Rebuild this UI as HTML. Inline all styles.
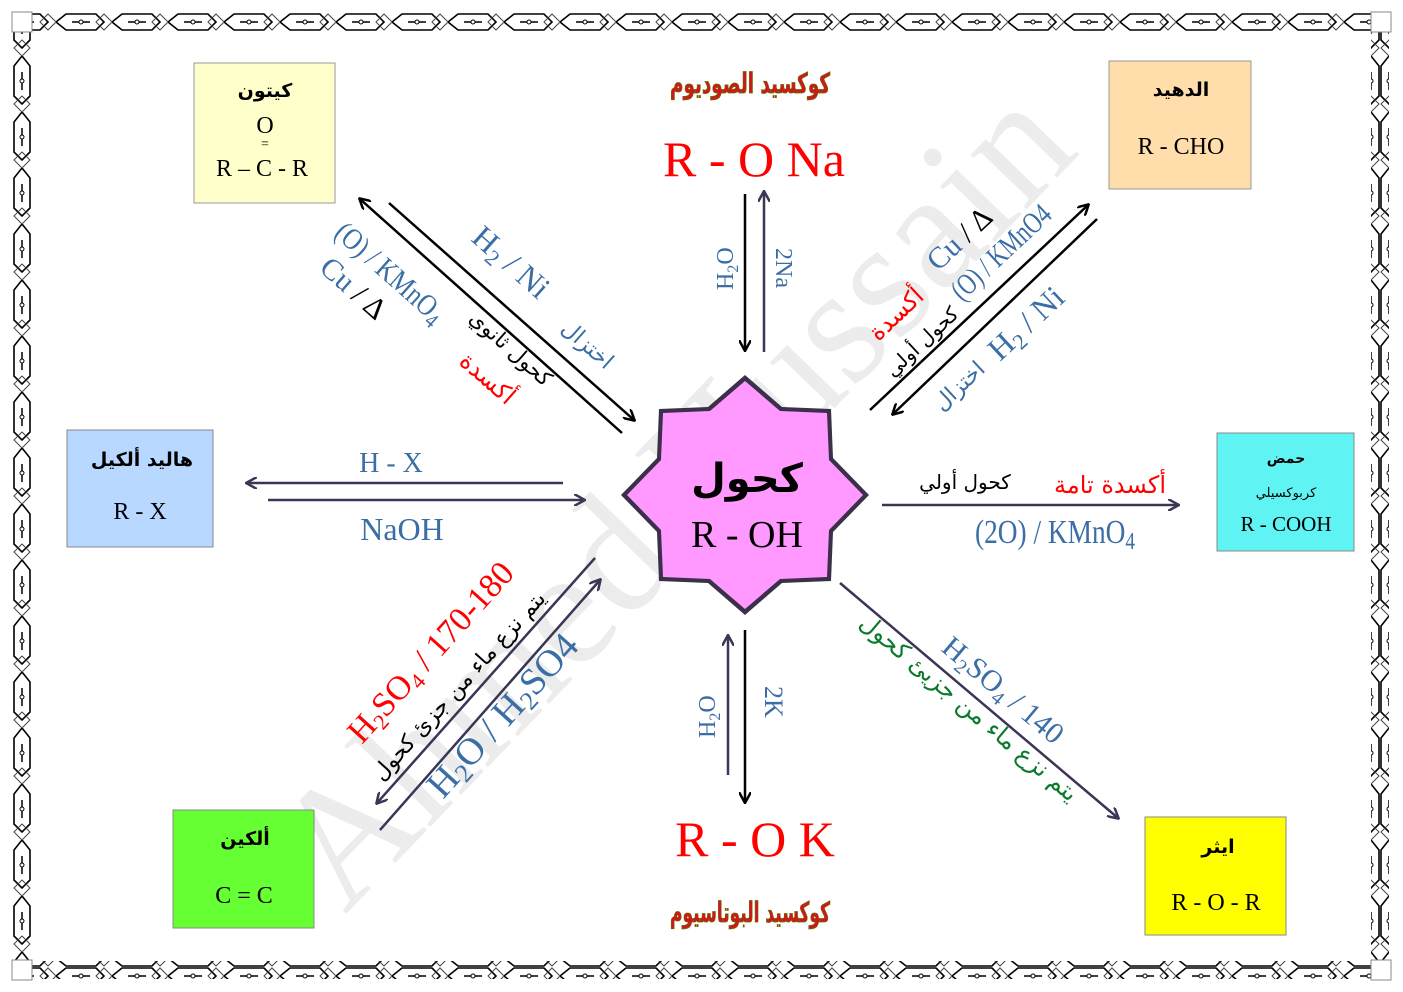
<!DOCTYPE html>
<html><head><meta charset="utf-8"><style>
html,body{margin:0;padding:0;background:#fff;}
svg{display:block}
text{font-family:"Liberation Serif","DejaVu Serif",serif;}
.ar{font-family:"DejaVu Sans","Noto Sans CJK SC",sans-serif;}
.b{fill:#3a6ea5}
</style></head><body>
<svg width="1403" height="992" viewBox="0 0 1403 992" xmlns="http://www.w3.org/2000/svg">
<defs>
<pattern id="bh" x="0" y="13" width="56" height="18" patternUnits="userSpaceOnUse">
<path d="M0,9 L10,1 L40,1 L48,9 L40,17 L10,17 Z" fill="none" stroke="#000" stroke-width="1.6"/>
<path d="M40,9 L48,1 L56,9 L48,17 Z" fill="none" stroke="#444" stroke-width="1"/>
<line x1="16" y1="9" x2="34" y2="9" stroke="#000" stroke-width="1.5"/>
<circle cx="25" cy="9" r="2" fill="#fff" stroke="#000"/>
</pattern>
<pattern id="bv" x="13" y="0" width="18" height="56" patternUnits="userSpaceOnUse">
<path d="M9,0 L1,10 L1,40 L9,48 L17,40 L17,10 Z" fill="none" stroke="#000" stroke-width="1.6"/>
<path d="M9,40 L1,48 L9,56 L17,48 Z" fill="none" stroke="#444" stroke-width="1"/>
<line x1="9" y1="16" x2="9" y2="34" stroke="#000" stroke-width="1.5"/>
<circle cx="9" cy="25" r="2" fill="#fff" stroke="#000"/>
</pattern>
<marker id="ak" markerWidth="12" markerHeight="12" refX="10" refY="6" orient="auto" markerUnits="userSpaceOnUse"><path d="M0,0 L11,6 L0,12" fill="none" stroke="#000" stroke-width="2.5"/></marker>
<marker id="an" markerWidth="12" markerHeight="12" refX="10" refY="6" orient="auto" markerUnits="userSpaceOnUse"><path d="M0,0 L11,6 L0,12" fill="none" stroke="#3b3556" stroke-width="2.5"/></marker>
</defs>
<!-- border -->
<rect x="30" y="13" width="1345" height="18" fill="url(#bh)"/>
<rect x="30" y="961" width="1345" height="18" fill="url(#bh)"/>
<rect x="13" y="30" width="18" height="935" fill="url(#bv)"/>
<rect x="1372" y="30" width="18" height="935" fill="url(#bv)" transform="translate(-1,0)"/>
<rect x="12" y="12" width="20" height="20" fill="#fff" stroke="#888"/>
<rect x="1371" y="12" width="20" height="20" fill="#fff" stroke="#888"/>
<rect x="12" y="960" width="20" height="20" fill="#fff" stroke="#888"/>
<rect x="1371" y="960" width="20" height="20" fill="#fff" stroke="#888"/>

<!-- watermark -->
<text x="0" y="0" font-size="170" fill="#ececec" textLength="1060" lengthAdjust="spacingAndGlyphs" transform="translate(345,915) rotate(-46)" style="font-family:'Liberation Serif',serif">Ahmed Hussain</text>

<!-- boxes -->
<rect x="194" y="63" width="141" height="140" fill="#ffffcc" stroke="#999"/>
<text x="265" y="97" class="ar" font-size="19" font-weight="bold" text-anchor="middle">كيتون</text>
<text x="265" y="133" font-size="24" text-anchor="middle">O</text>
<text x="265" y="148" font-size="14" text-anchor="middle">=</text>
<text x="262" y="176" font-size="24" text-anchor="middle">R – C - R</text>

<rect x="1109" y="61" width="142" height="128" fill="#ffdeab" stroke="#999"/>
<text x="1181" y="96" class="ar" font-size="19" font-weight="bold" text-anchor="middle">الدهيد</text>
<text x="1181" y="154" font-size="24" text-anchor="middle">R - CHO</text>

<rect x="67" y="430" width="146" height="117" fill="#b8d8ff" stroke="#888"/>
<text x="142" y="466" class="ar" font-size="19" font-weight="bold" text-anchor="middle">هاليد ألكيل</text>
<text x="140" y="519" font-size="24" text-anchor="middle">R - X</text>

<rect x="1217" y="433" width="137" height="118" fill="#5ff3f3" stroke="#888"/>
<text x="1286" y="463" class="ar" font-size="14" font-weight="bold" text-anchor="middle">حمض</text>
<text x="1286" y="497" class="ar" font-size="13" text-anchor="middle">كربوكسيلي</text>
<text x="1286" y="531" font-size="21" text-anchor="middle">R - COOH</text>

<rect x="173" y="810" width="141" height="118" fill="#66ff33" stroke="#888"/>
<text x="245" y="845" class="ar" font-size="19" font-weight="bold" text-anchor="middle">ألكين</text>
<text x="244" y="903" font-size="24" text-anchor="middle">C = C</text>

<rect x="1145" y="817" width="141" height="118" fill="#ffff00" stroke="#888"/>
<text x="1218" y="853" class="ar" font-size="19" font-weight="bold" text-anchor="middle">ايثر</text>
<text x="1216" y="910" font-size="24" text-anchor="middle">R - O - R</text>

<!-- star -->
<g transform="translate(745,495)">
<polygon points="0,-120 37,-88 86,-86 88,-37 124,0 88,37 86,86 37,88 0,120 -37,88 -86,86 -88,37 -124,0 -88,-37 -86,-86 -37,-88" fill="#3b2f4a"/>
<polygon points="0,-114 35,-84 82,-82 84,-35 118,0 84,35 82,82 35,84 0,114 -35,84 -82,82 -84,35 -118,0 -84,-35 -82,-82 -35,-84" fill="#ff99ff"/>
</g>
<text x="747" y="492" class="ar" font-size="40" font-weight="bold" text-anchor="middle">كحول</text>
<text x="747" y="547" font-size="38" text-anchor="middle">R - OH</text>

<!-- top -->
<text x="750" y="93" class="ar" font-size="28" font-weight="bold" fill="#cc1a1a" stroke="#6b6b00" stroke-width="0.8" text-anchor="middle" textLength="160" lengthAdjust="spacingAndGlyphs">كوكسيد الصوديوم</text>
<text x="754" y="176" font-size="50" fill="#ff0000" text-anchor="middle">R - O Na</text>
<line x1="745" y1="194" x2="745" y2="350" stroke="#000" stroke-width="2.5" marker-end="url(#ak)"/>
<line x1="764" y1="352" x2="764" y2="192" stroke="#3b3556" stroke-width="2.5" marker-end="url(#an)"/>
<text class="b" font-size="24" transform="translate(733,290) rotate(-90)">H<tspan font-size="16" dy="5">2</tspan><tspan dy="-5">O</tspan></text>
<text class="b" font-size="24" transform="translate(776,248) rotate(90)">2Na</text>

<!-- bottom -->
<line x1="728" y1="775" x2="728" y2="636" stroke="#3b3556" stroke-width="2.5" marker-end="url(#an)"/>
<line x1="745" y1="630" x2="745" y2="802" stroke="#000" stroke-width="2.5" marker-end="url(#ak)"/>
<text class="b" font-size="24" transform="translate(715,738) rotate(-90)">H<tspan font-size="16" dy="5">2</tspan><tspan dy="-5">O</tspan></text>
<text class="b" font-size="26" transform="translate(765,686) rotate(90)">2K</text>
<text x="755" y="856" font-size="50" fill="#ff0000" text-anchor="middle">R - O K</text>
<text x="750" y="922" class="ar" font-size="28" font-weight="bold" fill="#cc1a1a" stroke="#6b6b00" stroke-width="0.8" text-anchor="middle" textLength="160" lengthAdjust="spacingAndGlyphs">كوكسيد البوتاسيوم</text>

<!-- left horizontal -->
<line x1="563" y1="483" x2="247" y2="483" stroke="#3b3556" stroke-width="2.5" marker-end="url(#an)"/>
<line x1="268" y1="500" x2="584" y2="500" stroke="#3b3556" stroke-width="2.5" marker-end="url(#an)"/>
<text x="391" y="472" font-size="28" class="b" text-anchor="middle">H - X</text>
<text x="402" y="540" font-size="32" class="b" text-anchor="middle">NaOH</text>

<!-- right horizontal -->
<line x1="882" y1="505" x2="1178" y2="505" stroke="#3b3556" stroke-width="2.5" marker-end="url(#an)"/>
<text x="965" y="489" class="ar" font-size="20" text-anchor="middle">كحول أولي</text>
<text x="1110" y="493" class="ar" font-size="24" fill="#ff0000" text-anchor="middle">أكسدة تامة</text>
<text x="1055" y="543" font-size="34" class="b" text-anchor="middle" textLength="160" lengthAdjust="spacingAndGlyphs">(2O) / KMnO<tspan font-size="24" dy="6">4</tspan></text>

<!-- upper-left -->
<line x1="622" y1="433" x2="360" y2="199" stroke="#000" stroke-width="2.5" marker-end="url(#ak)"/>
<line x1="389" y1="203" x2="634" y2="420" stroke="#000" stroke-width="2.5" marker-end="url(#ak)"/>
<text class="b" font-size="30" transform="translate(333,235) rotate(41.5)" textLength="135" lengthAdjust="spacingAndGlyphs">(O) / KMnO<tspan font-size="22" dy="6">4</tspan></text>
<text class="b" font-size="30" transform="translate(318,270) rotate(41.5)">Cu <tspan fill="#000">/ ∆</tspan></text>
<text class="b" font-size="32" transform="translate(470,240) rotate(41.5)">H<tspan font-size="22" dy="6">2</tspan><tspan dy="-6"> / Ni</tspan></text>
<text class="b ar" font-size="22" transform="translate(560,330) rotate(41.5)">اختزال</text>
<text class="ar" font-size="21" transform="translate(468,320) rotate(41.5)">كحول ثانوي</text>
<text class="ar" font-size="24" fill="#ff0000" transform="translate(458,363) rotate(41.5)">أكسدة</text>

<!-- upper-right -->
<line x1="870" y1="410" x2="1088" y2="205" stroke="#000" stroke-width="2.5" marker-end="url(#ak)"/>
<line x1="1097" y1="219" x2="893" y2="414" stroke="#000" stroke-width="2.5" marker-end="url(#ak)"/>
<text class="b" font-size="30" transform="translate(938,272) rotate(-43)">Cu <tspan fill="#000">/ ∆</tspan></text>
<text class="b" font-size="30" transform="translate(962,302) rotate(-43)" textLength="125" lengthAdjust="spacingAndGlyphs">(O) / KMnO4</text>
<text class="b" font-size="32" transform="translate(1000,362) rotate(-43)">H<tspan font-size="22" dy="6">2</tspan><tspan dy="-6"> / Ni</tspan></text>
<text class="b ar" font-size="22" transform="translate(942,412) rotate(-43)">اختزال</text>
<text class="ar" font-size="24" fill="#ff0000" transform="translate(878,342) rotate(-43)">أكسدة</text>
<text class="ar" font-size="20" transform="translate(893,378) rotate(-43)">كحول أولي</text>

<!-- lower-left -->
<line x1="595" y1="558" x2="377" y2="803" stroke="#3b3556" stroke-width="2.5" marker-end="url(#an)"/>
<line x1="380" y1="830" x2="600" y2="580" stroke="#3b3556" stroke-width="2.5" marker-end="url(#an)"/>
<text font-size="34" fill="#ff0000" transform="translate(362,745) rotate(-48)">H<tspan font-size="22" dy="6">2</tspan><tspan dy="-6">SO</tspan><tspan font-size="22" dy="6">4</tspan><tspan dy="-6"> / 170-180</tspan></text>
<text class="ar" font-size="22" transform="translate(382,782) rotate(-48)">يتم نزع ماء من جزئ كحول</text>
<text class="b" font-size="38" transform="translate(443,800) rotate(-48)">H<tspan font-size="26" dy="6">2</tspan><tspan dy="-6">O / H</tspan><tspan font-size="26" dy="6">2</tspan><tspan dy="-6">SO4</tspan></text>

<!-- lower-right -->
<line x1="840" y1="583" x2="1118" y2="818" stroke="#3b3556" stroke-width="2.5" marker-end="url(#an)"/>
<text class="b" font-size="30" transform="translate(940,650) rotate(40)">H<tspan font-size="20" dy="6">2</tspan><tspan dy="-6">SO</tspan><tspan font-size="20" dy="6">4</tspan><tspan dy="-6"> / 140</tspan></text>
<text class="ar" font-size="24" fill="#0a7a2a" transform="translate(858,625) rotate(40)">يتم نزع ماء من جزيئ كحول</text>
</svg>
</body></html>
